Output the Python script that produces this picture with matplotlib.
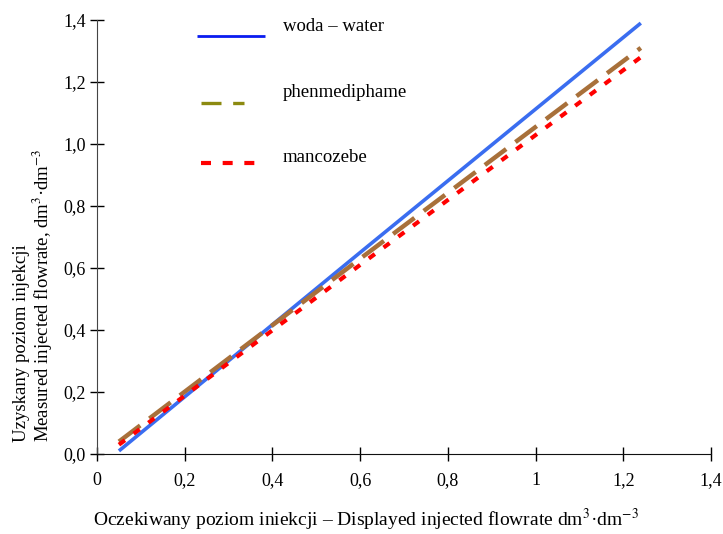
import matplotlib
matplotlib.use("Agg")
import matplotlib.pyplot as plt
from matplotlib.ticker import FuncFormatter

plt.rcParams["font.family"] = ["Liberation Serif", "DejaVu Serif"]
plt.rcParams["mathtext.fontset"] = "stix"

# data
x_vals = [0.05, 0.6, 1.24]
water = [0.01, 0.65, 1.39]
phenmediphame = [0.04, 0.63, 1.31]
mancozebe = [0.03, 0.61, 1.28]

labels = ["woda \u2013 water", "phenmediphame", "mancozebe"]

fig = plt.figure(figsize=(7.23, 5.34), dpi=100)
ax = fig.add_axes([97 / 723, 80 / 534, 614 / 723, 434 / 534])

ax.plot(x_vals, water, color="#3a6df0", lw=2.6, solid_capstyle="butt", zorder=3)
ax.plot(x_vals, phenmediphame, color="#a8703a", lw=3.2,
        dashes=(6, 2.6), zorder=4)
ax.plot(x_vals, mancozebe, color="#ff0000", lw=3.0,
        dashes=(1.8, 2.6), zorder=5)

# legend drawn by hand (keys have different lengths, wide spacing)
key_style = [
    dict(color="#0a1cf0", lw=2.0, xs=(0.163, 0.274)),
    dict(color="#8c8a10", lw=2.4, xs=(0.169, 0.240), dashes=(6, 3.5)),
    dict(color="#ff0000", lw=3.0, xs=(0.169, 0.258), dashes=(2.4, 2.8)),
]
key_y = [0.963, 0.809, 0.671]
text_y = [0.985, 0.832, 0.684]
for lab, st, ky, ty in zip(labels, key_style, key_y, text_y):
    kw = dict(color=st["color"], lw=st["lw"], transform=ax.transAxes,
              clip_on=False, solid_capstyle="butt")
    if "dashes" in st:
        kw["dashes"] = st["dashes"]
    ax.plot(st["xs"], [ky, ky], **kw)
    ax.text(0.303, ty, lab, transform=ax.transAxes, fontsize=13.5,
            ha="left", va="center")

ax.set_xlim(0, 1.4)
ax.set_ylim(0, 1.4)
ax.set_xticks([0, 0.2, 0.4, 0.6, 0.8, 1.0, 1.2, 1.4])
ax.set_yticks([0, 0.2, 0.4, 0.6, 0.8, 1.0, 1.2, 1.4])


def xfmt(v, pos):
    return ("%g" % round(v, 2)).replace(".", ",")


def yfmt(v, pos):
    return ("%.1f" % v).replace(".", ",")


ax.xaxis.set_major_formatter(FuncFormatter(xfmt))
ax.yaxis.set_major_formatter(FuncFormatter(yfmt))
ax.tick_params(axis="x", direction="inout", length=10, width=1,
               labelsize=13, pad=8)
ax.tick_params(axis="y", direction="inout", length=10, width=1,
               labelsize=13, pad=3)

for s in ["top", "right"]:
    ax.spines[s].set_visible(False)
ax.spines["left"].set_color("#444444")
ax.spines["bottom"].set_color("#111111")

fig.text(34 / 723, 1 - 442 / 534,
         "Uzyskany poziom injekcji\nMeasured injected flowrate, dm$^{3}$\u00b7dm$^{-3}$",
         rotation=90, ha="center", va="bottom", multialignment="left",
         fontsize=13.5, linespacing=1.0)
fig.text(93 / 723, 1 - 520 / 534,
         "Oczekiwany poziom iniekcji \u2013 Displayed injected flowrate dm$^{3}$\u00b7dm$^{-3}$",
         ha="left", va="center", fontsize=14)

fig.savefig("out.png", dpi=100, facecolor="white")
